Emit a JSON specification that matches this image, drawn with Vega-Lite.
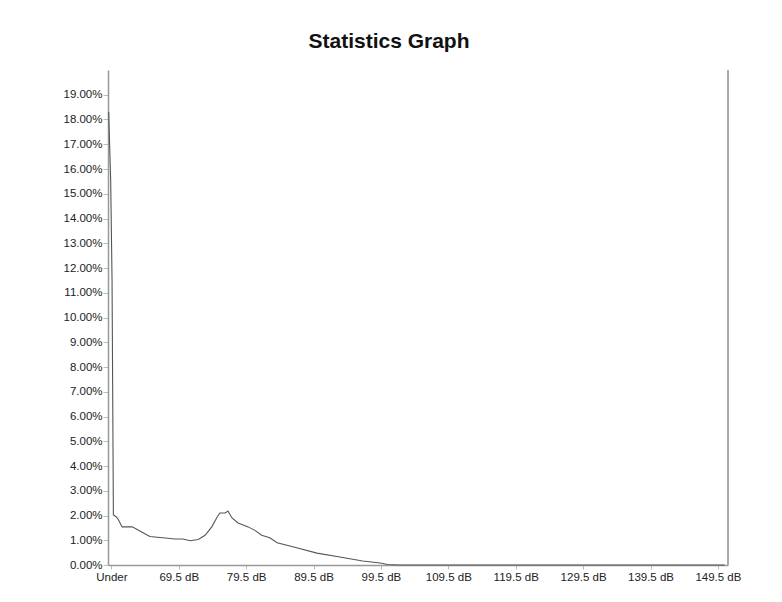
{
  "$schema": "https://vega.github.io/schema/vega-lite/v6.json",
  "width": 620,
  "height": 495,
  "autosize": {"type": "none"},
  "padding": {"left": 108, "top": 70, "right": 54, "bottom": 37},
  "background": "white",
  "title": {
    "text": "Statistics Graph",
    "font": "Liberation Sans",
    "fontSize": 21,
    "fontWeight": "bold",
    "color": "#111",
    "anchor": "middle",
    "dx": -29,
    "offset": 18
  },
  "config": {
    "view": {"stroke": null},
    "axis": {
      "labelFont": "Liberation Sans",
      "labelFontSize": 11.5,
      "labelColor": "#222",
      "domainColor": "#999",
      "domainWidth": 1.5,
      "tickColor": "#bbb",
      "grid": false,
      "title": null
    }
  },
  "data": {
    "values": [
      {"dB": 59.1, "pct": 18.3},
      {"dB": 59.4, "pct": 15.5},
      {"dB": 59.6, "pct": 11.5},
      {"dB": 59.8, "pct": 2.02},
      {"dB": 60.2, "pct": 1.95},
      {"dB": 60.5, "pct": 1.85},
      {"dB": 61.1, "pct": 1.54},
      {"dB": 62.6, "pct": 1.54},
      {"dB": 64.0, "pct": 1.33},
      {"dB": 65.2, "pct": 1.15},
      {"dB": 67.5, "pct": 1.09},
      {"dB": 68.9, "pct": 1.05},
      {"dB": 70.1, "pct": 1.05},
      {"dB": 71.2, "pct": 0.98},
      {"dB": 72.4, "pct": 1.03},
      {"dB": 73.4, "pct": 1.2},
      {"dB": 74.4, "pct": 1.54},
      {"dB": 75.2, "pct": 1.94},
      {"dB": 75.6, "pct": 2.1},
      {"dB": 76.4, "pct": 2.1},
      {"dB": 76.8, "pct": 2.18},
      {"dB": 77.4, "pct": 1.9},
      {"dB": 78.3, "pct": 1.7},
      {"dB": 79.8, "pct": 1.54},
      {"dB": 80.8, "pct": 1.4},
      {"dB": 81.8, "pct": 1.2},
      {"dB": 83.0, "pct": 1.1},
      {"dB": 84.1, "pct": 0.9},
      {"dB": 87.0, "pct": 0.7},
      {"dB": 90.0, "pct": 0.48},
      {"dB": 93.4, "pct": 0.32},
      {"dB": 96.8, "pct": 0.16},
      {"dB": 99.4, "pct": 0.08},
      {"dB": 100.5, "pct": 0.02},
      {"dB": 102.3, "pct": 0},
      {"dB": 150.5, "pct": 0}
    ]
  },
  "layer": [
    {
      "mark": {"type": "line", "color": "#555", "strokeWidth": 1.1, "interpolate": "linear"},
      "encoding": {
        "x": {
          "field": "dB",
          "type": "quantitative",
          "scale": {"domain": [59, 151], "nice": false, "zero": false},
          "axis": {
            "values": [59.5, 69.5, 79.5, 89.5, 99.5, 109.5, 119.5, 129.5, 139.5, 149.5],
            "labelExpr": "datum.value == 59.5 ? 'Under' : format(datum.value, '.1f') + ' dB'",
            "tickSize": 4,
            "labelPadding": 2,
            "labelFlush": false,
            "labelOverlap": false
          }
        },
        "y": {
          "field": "pct",
          "type": "quantitative",
          "scale": {"domain": [0, 20], "nice": false},
          "axis": {
            "values": [0, 1, 2, 3, 4, 5, 6, 7, 8, 9, 10, 11, 12, 13, 14, 15, 16, 17, 18, 19],
            "labelExpr": "format(datum.value, '.2f') + '%'",
            "tickSize": 5,
            "labelPadding": 1,
            "labelOverlap": false
          }
        }
      }
    },
    {
      "mark": {"type": "rule", "color": "#aaa", "strokeWidth": 1},
      "encoding": {"x": {"datum": 151}}
    }
  ]
}
